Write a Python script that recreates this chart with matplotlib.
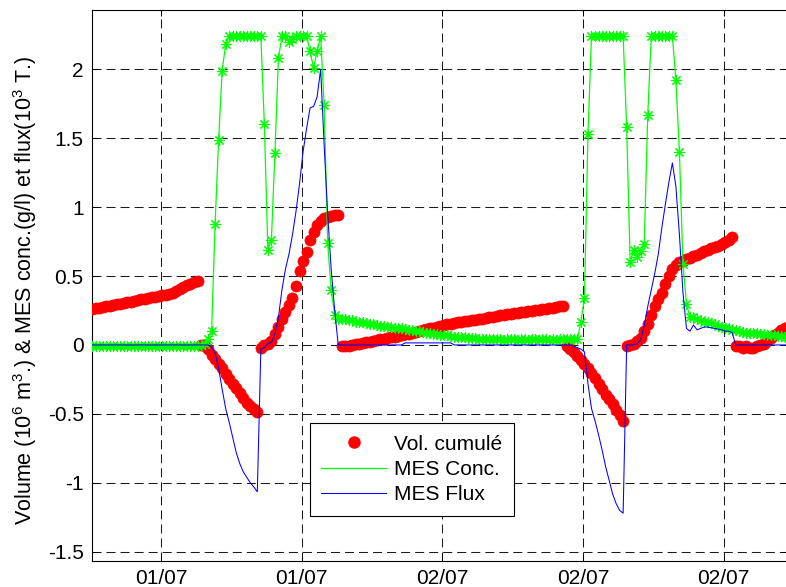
import numpy as np
import matplotlib.pyplot as plt
from matplotlib.lines import Line2D

plt.rcParams['font.family'] = ['Liberation Sans', 'DejaVu Sans']
plt.rcParams['mathtext.fontset'] = 'custom'
plt.rcParams['mathtext.rm'] = 'Liberation Sans'
plt.rcParams['mathtext.default'] = 'regular'
plt.rcParams['axes.unicode_minus'] = False
plt.rcParams['lines.scale_dashes'] = False

# pas d'echantillonnage des series (heures)
STEP_H = 0.25

# volume cumule (10^6 m3), une ligne = 2 h
vol = [
    0.26, 0.265, 0.27, 0.275, 0.28, 0.285, 0.29, 0.295,
    0.30, 0.305, 0.31, 0.315, 0.32, 0.325, 0.33, 0.335,
    0.34, 0.345, 0.35, 0.355, 0.36, 0.365, 0.372, 0.38,
    0.39, 0.405, 0.42, 0.435, 0.445, 0.455, 0.465, 0.0,
    -0.01, -0.03, -0.07, -0.10, -0.135, -0.17, -0.21, -0.245,
    -0.28, -0.315, -0.35, -0.385, -0.42, -0.445, -0.465, -0.485,
    -0.02, 0.0, 0.01, 0.03, 0.08, 0.13, 0.19, 0.24,
    0.29, 0.34, 0.43, 0.535, 0.61, 0.675, 0.76, 0.82,
    0.87, 0.90, 0.92, 0.93, 0.935, 0.94, 0.945, -0.01,
    -0.01, -0.005, 0.0, 0.005, 0.01, 0.015, 0.02, 0.025,
    0.03, 0.035, 0.04, 0.045, 0.05, 0.055, 0.06, 0.065,
    0.07, 0.076, 0.082, 0.088, 0.095, 0.101, 0.107, 0.113,
    0.12, 0.126, 0.132, 0.138, 0.145, 0.15, 0.155, 0.16,
    0.165, 0.169, 0.172, 0.176, 0.18, 0.184, 0.188, 0.191,
    0.195, 0.2, 0.205, 0.21, 0.215, 0.219, 0.223, 0.226,
    0.23, 0.234, 0.238, 0.241, 0.245, 0.249, 0.253, 0.256,
    0.26, 0.264, 0.268, 0.271, 0.275, 0.28, 0.285, -0.01,
    -0.03, -0.05, -0.08, -0.11, -0.135, -0.165, -0.20, -0.24,
    -0.28, -0.32, -0.36, -0.395, -0.43, -0.47, -0.51, -0.55,
    -0.01, 0.0, 0.01, 0.03, 0.05, 0.10, 0.15, 0.22,
    0.28, 0.33, 0.38, 0.44, 0.50, 0.55, 0.58, 0.60,
    0.61, 0.62, 0.63, 0.645, 0.655, 0.665, 0.68, 0.69,
    0.70, 0.71, 0.72, 0.73, 0.745, 0.76, 0.78, -0.01,
    -0.01, -0.02, -0.01, -0.02, -0.02, -0.01, 0.0, 0.01,
    0.03, 0.05, 0.07, 0.09, 0.11, 0.12, 0.13, 0.14,
]

# concentration MES (g/l)
conc = [
    -0.01, -0.01, -0.01, -0.01, -0.01, -0.01, -0.01, -0.01,
    -0.01, -0.01, -0.01, -0.01, -0.01, -0.01, -0.01, -0.01,
    -0.01, -0.01, -0.01, -0.01, -0.01, -0.01, -0.01, -0.01,
    -0.01, -0.01, -0.01, -0.01, -0.01, -0.01, -0.01, 0.0,
    0.01, 0.04, 0.10, 0.88, 1.49, 1.99, 2.18, 2.24,
    2.24, 2.24, 2.24, 2.24, 2.24, 2.24, 2.24, 2.24,
    2.24, 1.60, 0.69, 0.76, 1.39, 2.08, 2.24, 2.24,
    2.20, 2.22, 2.24, 2.24, 2.24, 2.24, 2.13, 2.01,
    2.13, 2.24, 1.74, 0.74, 0.40, 0.22, 0.19, 0.19,
    0.19, 0.18, 0.18, 0.17, 0.17, 0.165, 0.16, 0.155,
    0.15, 0.145, 0.14, 0.135, 0.13, 0.13, 0.125, 0.12,
    0.12, 0.115, 0.11, 0.105, 0.10, 0.10, 0.095, 0.09,
    0.085, 0.08, 0.08, 0.075, 0.07, 0.07, 0.065, 0.06,
    0.06, 0.055, 0.055, 0.05, 0.05, 0.05, 0.045, 0.045,
    0.045, 0.04, 0.04, 0.045, 0.04, 0.035, 0.04, 0.04,
    0.04, 0.035, 0.04, 0.04, 0.035, 0.04, 0.04, 0.035,
    0.04, 0.04, 0.035, 0.04, 0.035, 0.04, 0.04, 0.04,
    0.04, 0.04, 0.04, 0.17, 0.34, 1.53, 2.24, 2.24,
    2.24, 2.24, 2.24, 2.24, 2.24, 2.24, 2.24, 2.24,
    1.58, 0.60, 0.69, 0.64, 0.68, 0.73, 1.67, 2.24,
    2.24, 2.24, 2.24, 2.24, 2.24, 2.24, 1.92, 1.40,
    0.59, 0.30, 0.20, 0.20, 0.19, 0.18, 0.17, 0.165,
    0.16, 0.15, 0.14, 0.13, 0.125, 0.12, 0.11, 0.105,
    0.10, 0.095, 0.09, 0.09, 0.085, 0.085, 0.08, 0.08,
    0.075, 0.07, 0.07, 0.065, 0.065, 0.06, 0.06, 0.06,
]

# flux MES (10^3 T)
flux = [
    0.0, 0.0, 0.0, 0.0, 0.0, 0.0, 0.0, 0.0,
    0.0, 0.0, 0.0, 0.0, 0.0, 0.0, 0.0, 0.0,
    0.0, 0.0, 0.0, 0.0, 0.0, 0.0, 0.0, 0.0,
    0.0, 0.0, 0.0, 0.0, 0.0, 0.0, 0.0, 0.0,
    0.0, 0.0, -0.01, -0.06, -0.17, -0.32, -0.46, -0.56,
    -0.67, -0.78, -0.86, -0.92, -0.96, -1.0, -1.03, -1.065,
    -0.03, -0.02, 0.01, 0.02, 0.08, 0.20, 0.40, 0.55,
    0.66, 0.80, 0.97, 1.17, 1.40, 1.57, 1.72, 1.73,
    1.80, 2.0, 1.45, 0.95, 0.55, 0.25, 0.0, 0.0,
    0.0, 0.0, 0.0, 0.0, 0.0, 0.0, 0.0, 0.0,
    0.0, 0.0, 0.0, 0.0, 0.0, 0.0, 0.0, 0.0,
    0.0, 0.015, 0.015, 0.015, 0.015, 0.015, 0.015, 0.015,
    0.015, 0.015, 0.015, 0.015, 0.015, 0.015, 0.015, 0.0,
    0.0, 0.0, 0.0, 0.0, 0.0, 0.0, 0.0, 0.0,
    0.0, 0.0, 0.0, 0.0, 0.0, 0.0, 0.0, 0.0,
    0.0, 0.0, 0.0, 0.0, 0.0, 0.0, 0.0, 0.0,
    0.0, 0.0, 0.0, 0.0, 0.0, 0.0, 0.0, 0.0,
    0.0, -0.01, -0.02, -0.03, -0.05, -0.28, -0.46, -0.55,
    -0.65, -0.76, -0.88, -0.98, -1.08, -1.15, -1.20, -1.22,
    0.0, 0.0, 0.0, 0.01, 0.04, 0.14, 0.28, 0.40,
    0.52, 0.66, 0.85, 1.02, 1.18, 1.32, 1.15, 0.80,
    0.38, 0.12, 0.10, 0.145, 0.11, 0.12, 0.13, 0.13,
    0.125, 0.12, 0.115, 0.11, 0.10, 0.10, 0.09, 0.0,
    0.0, 0.0, 0.0, 0.0, 0.0, 0.0, 0.0, 0.0,
    0.0, 0.0, 0.0, 0.0, 0.0, 0.0, 0.0, 0.0,
]

xtick_pos = [4.9, 14.9, 24.9, 34.9, 44.9]
xtick_lab = ['01/07', '01/07', '02/07', '02/07', '02/07']
ytick_pos = [-1.5, -1, -0.5, 0, 0.5, 1, 1.5, 2]
ytick_lab = ['-1.5', '-1', '-0.5', '0', '0.5', '1', '1.5', '2']
labels = ['Vol. cumulé', 'MES Conc.', 'MES Flux']

t = np.arange(len(vol)) * STEP_H

W, H = 786, 587
FS = 15
fig = plt.figure(figsize=(W / 100, H / 100), dpi=100)
ax = fig.add_axes([92 / W, (H - 560.7) / H, (787 - 92) / W, (560.7 - 9.7) / H])

ax.plot(t, vol, ls='none', marker='o', ms=8, color='red', mec='red', mew=0.5, zorder=3)
ax.plot(t, conc, ls='-', lw=0.9, color='#00ff00', marker=(8, 2, 0), ms=8,
        mew=0.8, zorder=4)
ax.plot(t, flux, ls='-', lw=0.75, color='blue', zorder=5)

ax.set_xlim(0, (787 - 92) / 14.07)
ax.set_ylim(-1.565, 2.432)
ax.set_xticks(xtick_pos)
ax.set_xticklabels(xtick_lab)
ax.set_yticks(ytick_pos)
ax.set_yticklabels(ytick_lab)
ax.tick_params(direction='in', length=4, width=0.7, labelsize=FS, pad=6,
               top=True, right=True)

ax.grid(True, color='0.1', lw=0.75, ls=(0, (6.5, 3.6)))
for s in ax.spines.values():
    s.set_linewidth(0.8)
    s.set_color('k')

ax.set_ylabel('Volume (10$^6$ m$^3$.) & MES conc.(g/l) et flux(10$^3$ T.)', fontsize=15.5)
ax.yaxis.set_label_coords((39 - 92) / 695, 0.49)

handles = [
    Line2D([], [], ls='none', marker='o', ms=8, color='red'),
    Line2D([], [], color='#00ff00', lw=0.9),
    Line2D([], [], color='blue', lw=0.75),
]
leg = ax.legend(handles, labels, loc='upper left', bbox_to_anchor=(0.3137, 0.2494),
                fontsize=FS, frameon=True, fancybox=False, framealpha=1,
                edgecolor='k', borderpad=0.55, handlelength=3.1, handletextpad=0.4,
                labelspacing=0.3, borderaxespad=0)
leg.get_frame().set_linewidth(0.8)

fig.savefig('out.png', dpi=100)
